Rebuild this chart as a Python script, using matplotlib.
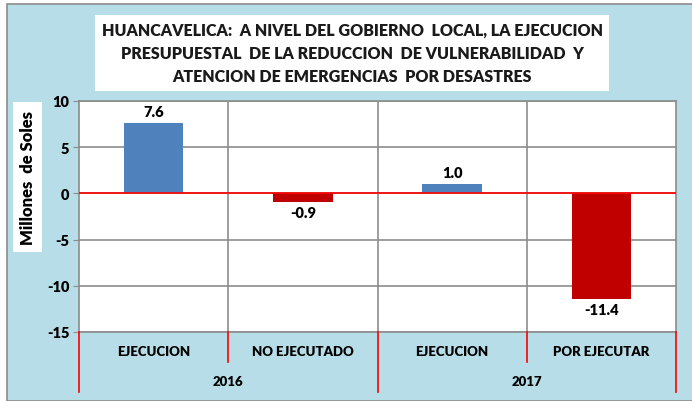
import matplotlib
matplotlib.use("Agg")
import matplotlib.pyplot as plt
import matplotlib.transforms as mtransforms
from matplotlib.patches import Rectangle
from matplotlib.lines import Line2D

categories = ["EJECUCION", "NO EJECUTADO", "EJECUCION", "POR EJECUTAR"]
years = ["2016", "2017"]
values = [7.6, -0.9, 1.0, -11.4]
colors = ["#4F81BD", "#C00000", "#4F81BD", "#C00000"]
yticks = [10, 5, 0, -5, -10, -15]
title = ("HUANCAVELICA:  A NIVEL DEL GOBIERNO  LOCAL, LA EJECUCION\n"
         "PRESUPUESTAL  DE LA REDUCCION  DE VULNERABILIDAD  Y\n"
         "ATENCION DE EMERGENCIAS  POR DESASTRES")
ylabel = "Millones  de Soles"

plt.rcParams['font.family'] = ['Lato', 'DejaVu Sans']
FW = "heavy"
W, H = 692, 402
fig = plt.figure(figsize=(W / 100, H / 100), dpi=100, facecolor="white")

def fx(x):
    return x / W

def fy(y):
    return 1 - y / H

# outer blue panel
fig.patches.append(Rectangle((fx(7), fy(402)), fx(700), 397 / H, transform=fig.transFigure,
                             facecolor="#B7DEE8", edgecolor="#8C8C8C", lw=1.2, zorder=0))
# title box
fig.patches.append(Rectangle((fx(95), fy(92)), fx(609 - 95), (92 - 16) / H, transform=fig.transFigure,
                             facecolor="white", edgecolor="none", zorder=1))
fig.text(fx(352), fy(54), title, ha="center", va="center", fontsize=11.5, fontweight=FW,
         color="#1a1a1a", linespacing=1.55, zorder=2)
# ylabel box
fig.patches.append(Rectangle((fx(13), fy(253)), fx(42 - 13), (253 - 103) / H, transform=fig.transFigure,
                             facecolor="white", edgecolor="none", zorder=1))
fig.text(fx(28), fy(178), ylabel, ha="center", va="center", rotation=90, fontsize=12,
         fontweight=FW, color="black", zorder=2)

ax = fig.add_axes([fx(79), fy(333), fx(676 - 79), (333 - 102) / H])
ax.set_zorder(5)
ax.set_facecolor("white")
x = list(range(len(categories)))
ax.bar(x, values, width=0.4, color=colors, zorder=3)
ax.set_xlim(-0.5, len(categories) - 0.5)
ax.set_ylim(-15, 10)
ax.set_yticks(yticks)
ax.set_yticklabels([str(t) for t in yticks], fontsize=10.5, fontweight=FW)
ax.tick_params(axis="y", length=4, color="#8C8C8C", pad=3)
ax.set_xticks([])
ax.grid(axis="y", color="#8C8C8C", lw=1.2, zorder=1)
for b in [0.5, 1.5, 2.5]:
    ax.axvline(b, color="#8C8C8C", lw=1.2, zorder=1)
ax.axhline(0, color="red", lw=1.2, zorder=4)
for s in ax.spines.values():
    s.set_color("#8C8C8C")
    s.set_linewidth(1.2)

for xi, v in zip(x, values):
    if v >= 0:
        ax.annotate(f"{v:.1f}", (xi, v), xytext=(0, 4), textcoords="offset points",
                    ha="center", va="bottom", fontsize=10.5, fontweight=FW)
    else:
        ax.annotate(f"{v:.1f}", (xi, v), xytext=(0, -3), textcoords="offset points",
                    ha="center", va="top", fontsize=10.5, fontweight=FW)

# category labels and separators below axis
bt = mtransforms.blended_transform_factory(ax.transData, fig.transFigure)
for xi, c in zip(x, categories):
    ax.text(xi, fy(352), c, transform=bt, ha="center", va="center", fontsize=9.5,
            fontweight=FW, clip_on=False)
for yi, yr in enumerate(years):
    ax.text(yi * 2 + 0.5, fy(382), yr, transform=bt, ha="center", va="center",
            fontsize=9.5, fontweight=FW, clip_on=False)
for b, long in [(-0.5, True), (0.5, False), (1.5, True), (2.5, False), (3.5, True)]:
    y_end = 393 if long else 363
    fig.lines.append(Line2D([b, b], [fy(333), fy(y_end)], transform=bt, color="red", lw=1.2,
                            zorder=6))

fig.savefig("out.png", dpi=100, facecolor="white")
